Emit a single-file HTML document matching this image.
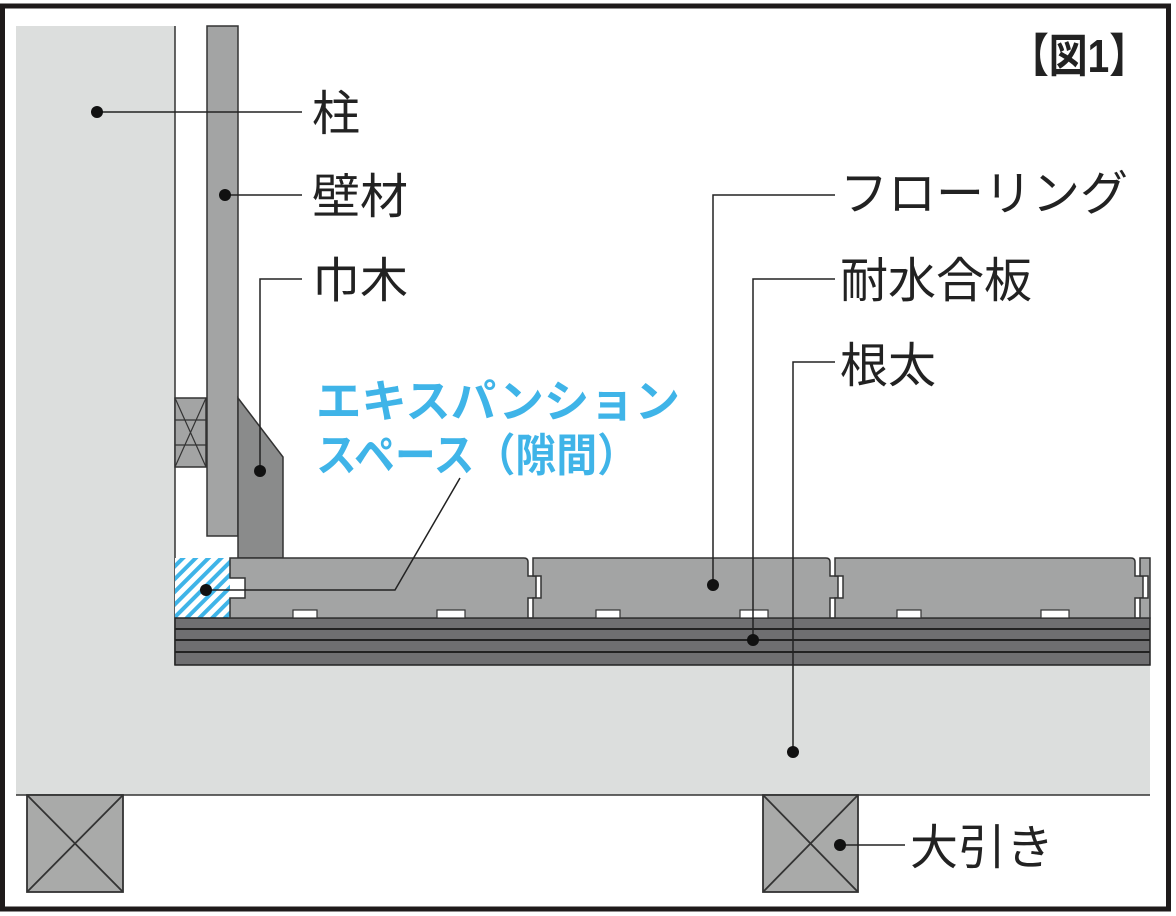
<!DOCTYPE html>
<html><head><meta charset="utf-8"><style>
html,body{margin:0;padding:0;background:#fff;}
svg{display:block}
text{font-family:"Liberation Sans","Noto Sans CJK JP",sans-serif;}
</style></head><body>
<svg width="1176" height="916" viewBox="0 0 1176 916" xmlns="http://www.w3.org/2000/svg">
<defs>
<pattern id="h" width="9" height="9" patternUnits="userSpaceOnUse" patternTransform="rotate(45)">
<rect width="9" height="9" fill="#fff"/><rect width="4" height="9" fill="#3fb4e8"/>
</pattern>
</defs>
<rect x="0" y="0" width="1176" height="916" fill="#fff"/>
<path d="M16 26 H175 V665 H1150 V795 H16 Z" fill="#dcdedd"/>
<line x1="16" y1="795" x2="1150" y2="795" stroke="#333" stroke-width="1.5"/>
<line x1="175" y1="26" x2="175" y2="665" stroke="#333" stroke-width="1.5"/>
<rect x="207" y="26" width="31" height="510" fill="#a3a4a4" stroke="#333" stroke-width="1.5"/>
<rect x="175" y="398" width="31" height="69" fill="#a3a4a4" stroke="#333" stroke-width="1.5"/>
<path d="M175 398 L206 467 M206 398 L175 467 M175 420 H206 M175 445 H206" stroke="#333" stroke-width="1.2" fill="none"/>
<path d="M238 398 L283 457 V558 H238 Z" fill="#8a8b8b" stroke="#333" stroke-width="1.5"/>
<rect x="175" y="558" width="55" height="60" fill="url(#h)"/>
<rect x="175" y="618" width="975" height="47" fill="#6f6f71" stroke="#222" stroke-width="1.5"/>
<path d="M175 629 H1150 M175 640 H1150 M175 652 H1150" stroke="#222" stroke-width="2"/>
<g fill="#a3a4a4" stroke="#333" stroke-width="1.5">
<path d="M230 558 H524 Q528 558 528 562 V576 H536 V598 H528 V618 H230 V598 H245 V578 H230 Z"/>
<path d="M533 558 H826 Q830 558 830 562 V576 H838 V598 H830 V618 H533 V598 H541 V576 H533 Z"/>
<path d="M835 558 H1131 Q1135 558 1135 562 V576 H1143 V598 H1135 V618 H835 V598 H843 V576 H835 Z"/>
<path d="M1140 558 H1150 V618 H1140 V598 H1148 V576 H1140 Z"/>
</g>
<g fill="#fff" stroke="#333" stroke-width="1.2">
<rect x="293" y="610" width="24" height="8"/><rect x="437" y="610" width="28" height="8"/>
<rect x="596" y="610" width="24" height="8"/><rect x="740" y="610" width="28" height="8"/>
<rect x="897" y="610" width="24" height="8"/><rect x="1041" y="610" width="28" height="8"/>
</g>
<g fill="#a9aaa9" stroke="#333" stroke-width="1.8">
<rect x="27" y="795" width="96" height="97"/><path d="M27 795 L123 892 M123 795 L27 892"/>
<rect x="763" y="795" width="95" height="97"/><path d="M763 795 L858 892 M858 795 L763 892"/>
</g>
<g stroke="#222" stroke-width="1.5" fill="none">
<path d="M97 112 H302"/>
<path d="M225 195 H302"/>
<path d="M260 470 V279 H302"/>
<path d="M713 585 V195 H835"/>
<path d="M753 640 V279 H835"/>
<path d="M793 752 V362 H835"/>
<path d="M840 845 H905"/>
<path d="M205 590 H395 L460 478"/>
</g>
<g fill="#111">
<circle cx="97" cy="112" r="6"/><circle cx="225" cy="195" r="6"/><circle cx="260" cy="471" r="6"/>
<circle cx="713" cy="585" r="6"/><circle cx="753" cy="640" r="6"/><circle cx="793" cy="752" r="6"/>
<circle cx="840" cy="845" r="6"/><circle cx="206" cy="590" r="6"/>
</g>
<g font-size="48" fill="#222">
<text x="312" y="130">柱</text>
<text x="312" y="213">壁材</text>
<text x="312" y="297">巾木</text>
<text x="840" y="210">フローリング</text>
<text x="840" y="297">耐水合板</text>
<text x="840" y="382">根太</text>
<text x="910" y="864">大引き</text>
</g>
<g font-size="45" font-weight="bold" fill="#3fb4e8">
<text x="316" y="417" textLength="364" lengthAdjust="spacingAndGlyphs">エキスパンション</text>
<text x="316" y="471" textLength="322" lengthAdjust="spacingAndGlyphs">スペース（隙間）</text>
</g>
<text x="1010" y="72" font-size="46" font-weight="bold" fill="#222" textLength="138" lengthAdjust="spacingAndGlyphs">【図1】</text>
<rect x="2.5" y="6" width="1166" height="903" fill="none" stroke="#1e1a1a" stroke-width="5"/>
</svg>
</body></html>
